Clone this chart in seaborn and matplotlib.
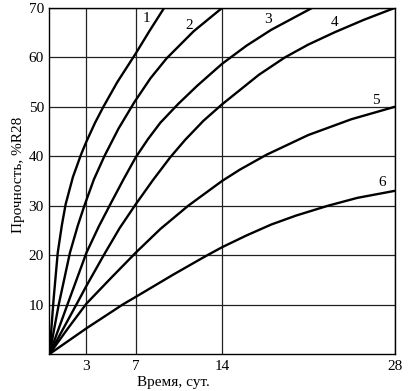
import pandas as pd
import matplotlib.pyplot as plt
import seaborn as sns

# values: time in days, strength in % of R28
days_1 = [0, 0.33, 0.67, 1.0, 1.31, 1.9, 2.55, 3.0, 3.7, 4.37, 5.5, 7.0, 8.1, 9.3]
strength_1 = [0, 11, 20.5, 26, 30.3, 35.8, 40.3, 43, 46.8, 50, 55, 60.8, 65.3, 70]

days_2 = [0, 0.75, 1.66, 2.3, 2.83, 3.6, 4.45, 5.6, 6.9, 8.2, 9.5, 11.7, 14]
strength_2 = [0, 10, 20.5, 26, 30, 35.3, 40, 45.6, 51, 55.8, 59.8, 65.3, 70]

days_3 = [0, 1.5, 3.0, 4.0, 5.0, 6.0, 7.0, 8.0, 9.0, 10.45, 12.0, 14.0, 16.0, 18.0, 21.3]
strength_3 = [0, 10.3, 20.5, 25.8, 30.6, 35.3, 39.8, 43.5, 46.8, 50.6, 54.3, 58.7, 62.4, 65.6, 70]

days_4 = [0, 2.18, 3.0, 4.45, 5.7, 7.0, 8.4, 9.8, 11.0, 12.5, 14.0, 15.2, 17.0, 19.1, 21.0, 23.15, 25.5, 28]
strength_4 = [0, 10, 13.8, 20.2, 25.5, 30.3, 35.2, 39.8, 43.3, 47.2, 50.5, 52.9, 56.5, 60, 62.6, 65.1, 67.6, 70]

days_5 = [0, 1.5, 3.0, 5.0, 7.0, 9.0, 11.26, 14.0, 15.45, 17.6, 21.0, 24.5, 28]
strength_5 = [0, 5.2, 10.2, 15.4, 20.5, 25.3, 30, 35, 37.3, 40.3, 44.3, 47.5, 50]

days_6 = [0, 3.0, 6.0, 7.3, 10.0, 12.6, 14.0, 16.0, 18.0, 20.0, 22.6, 25.0, 28]
strength_6 = [0, 5.2, 10.1, 12.0, 16.0, 19.7, 21.6, 24.0, 26.2, 28.0, 30.0, 31.6, 33.0]

curve_names = ['1', '2', '3', '4', '5', '6']
x_ticks = [3, 7, 14, 28]
y_ticks = [10, 20, 30, 40, 50, 60, 70]

all_days = [days_1, days_2, days_3, days_4, days_5, days_6]
all_strength = [strength_1, strength_2, strength_3, strength_4, strength_5, strength_6]

frames = []
for name, d, s in zip(curve_names, all_days, all_strength):
    frames.append(pd.DataFrame({'day': d, 'strength': s, 'curve': name}))
df = pd.concat(frames, ignore_index=True)

sns.set_theme(style='white')
plt.rcParams['font.family'] = ['Liberation Serif', 'DejaVu Serif']

fig = plt.figure(figsize=(4.18, 3.91), dpi=100)
ax = fig.add_axes([0.1184, 0.0946, 0.8254, 0.8849])

sns.lineplot(data=df, x='day', y='strength', hue='curve', palette=['black'] * 6,
             estimator=None, sort=False, linewidth=1.7, legend=False, ax=ax)

ax.set_xlim(0, 28)
ax.set_ylim(0, 70)
ax.set_xticks(x_ticks)
ax.set_yticks(y_ticks)
ax.tick_params(length=0, labelsize=11, colors='black', pad=4)
ax.grid(True, color='#222222', linewidth=0.9)
ax.set_axisbelow(True)
for sp in ax.spines.values():
    sp.set_color('black')
    sp.set_linewidth(1.0)

ax.set_xlabel('Время, сут.', fontsize=11, color='black')
ax.xaxis.set_label_coords(0.358, -0.064)
ax.set_ylabel('Прочность, %R28', fontsize=11, color='black')
ax.yaxis.set_label_coords(-0.071, 0.517)

# curve numbers
label_pos = [(7.9, 67.8), (11.3, 66.5), (17.7, 67.6), (23.15, 67.1), (26.45, 51.3), (27.0, 34.6)]
for name, (lx, ly) in zip(curve_names, label_pos):
    ax.text(lx, ly, name, ha='center', va='center', fontsize=11, color='black')

fig.savefig('out.png', dpi=100)
